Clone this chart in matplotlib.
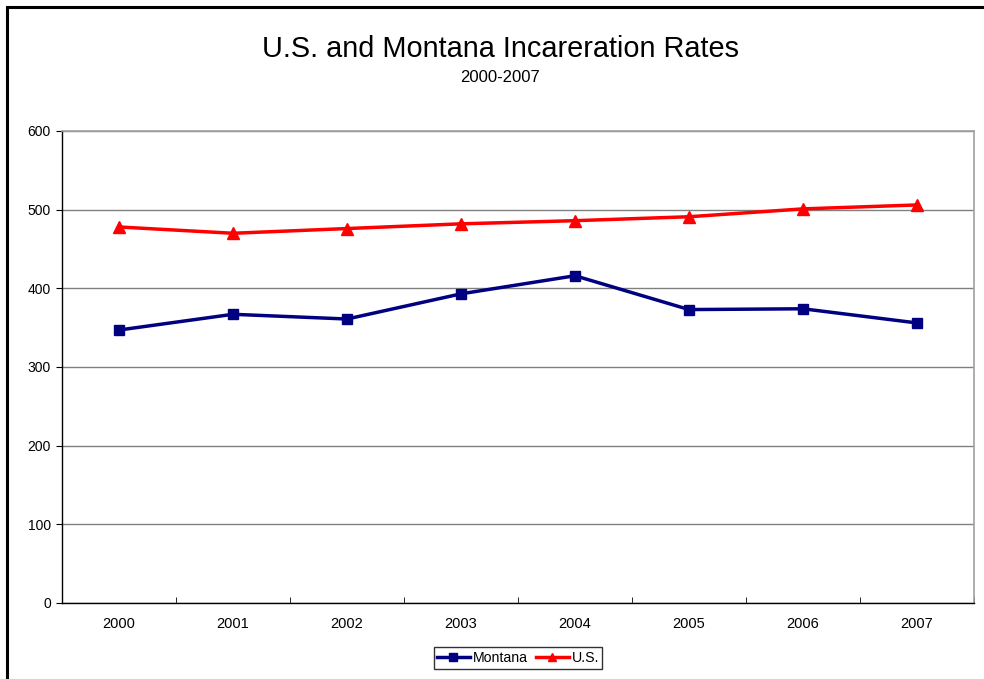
import matplotlib
matplotlib.use("Agg")
import matplotlib.pyplot as plt
from matplotlib.patches import Rectangle

plt.rcParams['font.family'] = ['Liberation Sans', 'DejaVu Sans']

years = ['2000', '2001', '2002', '2003', '2004', '2005', '2006', '2007']
montana = [347, 367, 361, 393, 416, 373, 374, 356]
us = [478, 470, 476, 482, 486, 491, 501, 506]
yticks = [0, 100, 200, 300, 400, 500, 600]

W, H = 984, 679
fig = plt.figure(figsize=(W / 100, H / 100), dpi=100)

# outer chart frame (runs off the right and bottom edges)
fig.patches.append(Rectangle((7 / W, -0.05), 1.2, 1 - 7 / H + 0.05,
                             transform=fig.transFigure, fill=False,
                             edgecolor='black', linewidth=2.2))

left, right, top, bottom = 62, 974, 131, 603
ax = fig.add_axes([left / W, 1 - bottom / H, (right - left) / W, (bottom - top) / H])

x = list(range(len(years)))
ax.plot(x, montana, color='#000080', linewidth=2.5, marker='s', markersize=6.5,
        label='Montana', zorder=3)
ax.plot(x, us, color='#FF0000', linewidth=2.5, marker='^', markersize=8,
        label='U.S.', zorder=3)

ax.set_xlim(-0.5, len(years) - 0.5)
ax.set_ylim(0, 600)
ax.set_yticks(yticks)
ax.set_yticklabels([str(v) for v in yticks], fontsize=10)
ax.set_xticks(x)
ax.set_xticklabels(years, fontsize=10.5)
ax.set_xticks([i - 0.5 for i in range(len(years) + 1)], minor=True)
ax.tick_params(axis='x', which='major', length=0, pad=10)
ax.tick_params(axis='x', which='minor', length=4, direction='in', color='black')
ax.tick_params(axis='y', length=4, direction='out', pad=4)

ax.yaxis.grid(True, color='#808080', linewidth=1.0)
ax.set_axisbelow(True)
for side in ('top', 'right'):
    ax.spines[side].set_color('#a0a0a0')
    ax.spines[side].set_linewidth(1.2)
ax.spines['left'].set_color('black')
ax.spines['bottom'].set_color('black')
ax.spines['left'].set_linewidth(1.0)
ax.spines['bottom'].set_linewidth(1.0)

fig.text(500 / W, 1 - 49 / H, 'U.S. and Montana Incareration Rates',
         ha='center', va='center', fontsize=20.8)
fig.text(500 / W, 1 - 77 / H, '2000-2007', ha='center', va='center', fontsize=12)

leg = fig.legend(loc='center', bbox_to_anchor=(518 / W, 1 - 658 / H), ncol=2,
                 fontsize=10.2, frameon=True, fancybox=False, edgecolor='black',
                 handlelength=2.3, handletextpad=0.2, columnspacing=0.6,
                 borderpad=0.25, borderaxespad=0, markerscale=0.8)
leg.get_frame().set_linewidth(1.0)

fig.savefig('out.png', dpi=100)
